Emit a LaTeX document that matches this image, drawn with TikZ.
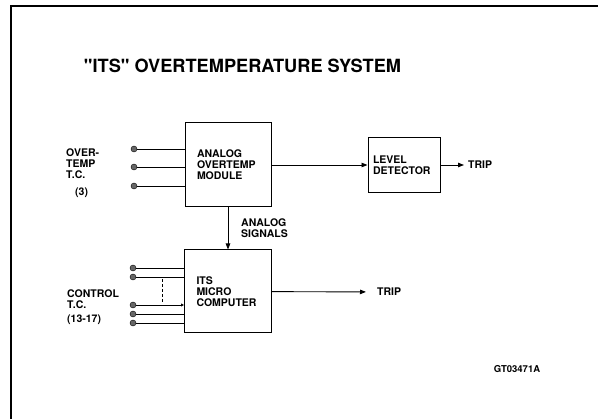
\documentclass[tikz,border=0pt]{standalone}
\usepackage{fontspec}
\newfontfamily\heros{TeX Gyre Heros}
\usetikzlibrary{arrows.meta}

\begin{document}
\begin{tikzpicture}[x=1pt, y=-1pt, font=\heros\bfseries\fontsize{10.5}{11}\selectfont, >={Triangle[length=6pt, width=4.5pt]}]
  % Define styles
  \tikzstyle{block} = [rectangle, draw, line width=1pt, align=left, inner ysep=0pt]
  \tikzstyle{dot} = [circle, draw, fill=black!60, inner sep=0pt, minimum size=6pt]
  \tikzstyle{lbl} = [inner sep=0pt, anchor=west, align=left]
  \tikzstyle{wire} = [line width=0.9pt]

  \useasboundingbox (0,0) rectangle (598,419);

  % Frame
  \draw[line width=2pt] (11,419) -- (11,6) -- (598,6);

  % Title
  \node[inner sep=0pt] (title) at (242.5,66) {\fontsize{18.2}{20}\selectfont "ITS" OVERTEMPERATURE SYSTEM};

  % Analog overtemp module
  \node[block, text width=62pt, inner xsep=12pt, minimum height=84pt] (module) at (228,165) {ANALOG\\OVERTEMP\\MODULE};

  % Level detector
  \node[block, text width=62pt, inner xsep=5pt, minimum height=55pt] (level) at (404,165) {LEVEL\\DETECTOR};

  % Micro computer
  \node[block, text width=63pt, inner xsep=12pt, minimum height=83pt] (micro) at (228,291.5) {ITS\\MICRO\\COMPUTER};

  % Overtemp T.C. inputs
  \node[dot] (o1) at (134,149) {};
  \node[dot] (o2) at (134,167) {};
  \node[dot] (o3) at (134,186) {};
  \node[lbl] (otc) at (66,164) {OVER-\\TEMP\\T.C.};
  \node[lbl] (otcn) at (75,193) {(3)};

  % Control T.C. inputs
  \node[dot] (c1) at (133,268) {};
  \node[dot] (c2) at (133,277) {};
  \node[dot] (c3) at (133,305) {};
  \node[dot] (c4) at (133,314) {};
  \node[dot] (c5) at (133,323) {};
  \node[lbl] (ctc) at (67,299) {CONTROL\\T.C.};
  \node[lbl] (ctcn) at (67,320) {(13-17)};
  \coordinate (gaptop) at (162,279);
  \coordinate (gapbot) at (162,303);

  % Outputs
  \node[lbl] (trip1) at (468,165) {TRIP};
  \node[lbl] (trip2) at (377,292) {TRIP};
  \node[lbl] (sig) at (241,228) {ANALOG\\SIGNALS};

  % Drawing number
  \node[inner sep=0pt] (dwg) at (517,369) {\fontsize{9.5}{10}\selectfont GT03471A};

  % Connections - overtemp path
  \foreach \i in {1,2,3}
    \draw[wire] (o\i) -- (o\i -| module.west);
  \draw[wire, ->] (module) -- (level);
  \draw[wire, ->, shorten >=4pt] (level) -- (trip1);
  \draw[wire, ->] (module) -- (micro);

  % Connections - control path
  \foreach \i in {1,2,4,5}
    \draw[wire] (c\i) -- (c\i -| micro.west);
  \draw[wire, -{Triangle[open, length=3pt, width=3pt]}] (c3) -- (c3 -| micro.west);
  \draw[wire, dashed, dash pattern=on 3pt off 2pt] (gaptop) -- (gapbot);
  \draw[wire, ->, shorten >=11pt] (micro) -- (trip2);

\end{tikzpicture}
\end{document}
